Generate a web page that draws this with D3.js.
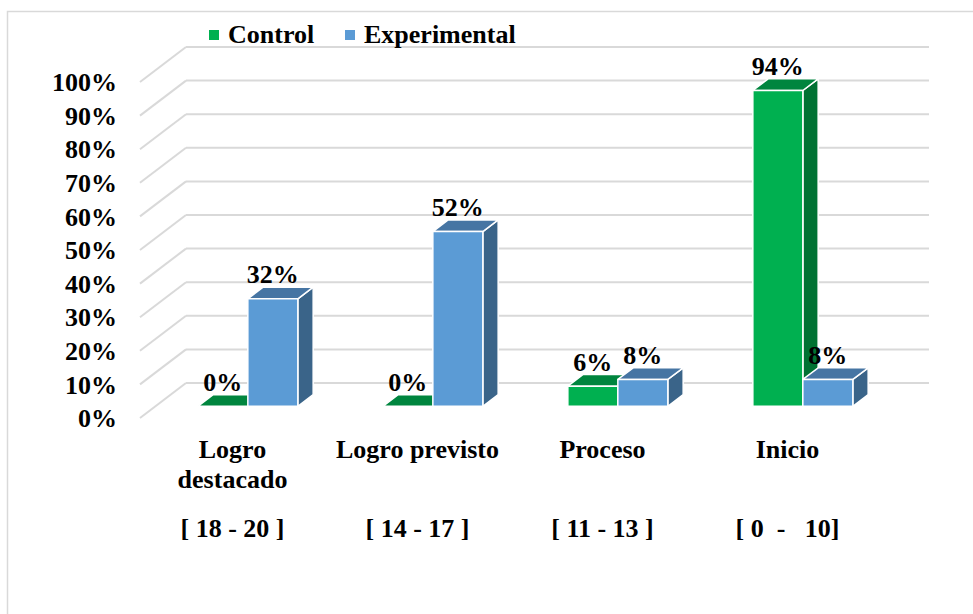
<!DOCTYPE html>
<html>
<head>
<meta charset="utf-8">
<script src="https://cdn.jsdelivr.net/npm/d3@7"></script>
<style>
    body { margin: 0; background: #fff; }
    svg text { font-family: "Liberation Serif", "Times New Roman", serif; font-weight: bold; fill: #000; }
</style>
</head>
<body>
<svg id="chart" width="973" height="614"></svg>
<script>
(function () {
    "use strict";

    var categories = ["Logro destacado", "Logro previsto", "Proceso", "Inicio"];
    var ranges = ["[ 18 - 20 ]", "[ 14 - 17 ]", "[ 11 - 13 ]", "[ 0  -   10]"];
    var series = ["Control", "Experimental"];
    var control = [0, 0, 6, 94];
    var experimental = [32, 52, 8, 8];
    var yTicks = [0, 10, 20, 30, 40, 50, 60, 70, 80, 90, 100];

    var colors = {
        Control: { front: "#00b050", top: "#00853e", side: "#007233" },
        Experimental: { front: "#5b9bd5", top: "#4675a3", side: "#3a6489" }
    };

    // Floor depth vector, from the front edge to the back wall.
    var depth = { x: 46, y: -35 };
    var floorLeft = 140, floorRight = 880, wallRight = 929;
    var fontSize = 26;

    var svg = d3.select("#chart");

    svg.append("rect")
        .attr("x", 7.5).attr("y", 11.5)
        .attr("width", 1000).attr("height", 700)
        .attr("fill", "#fff")
        .attr("stroke", "#d9d9d9")
        .attr("stroke-width", 1.5);

    // y is measured on the back wall.
    var y = d3.scaleLinear().domain([0, 100]).range([383, 47]);

    var x = d3.scaleBand().domain(categories).range([floorLeft, floorRight]);
    var bw = x.bandwidth();
    var barW = 50;
    var xInner = d3.scaleBand().domain(series)
        .range([(bw - 2 * barW) / 2, (bw + 2 * barW) / 2]);

    /***************************************
     * Walls: gridlines on back wall plus the left wall diagonals
     */
    var grid = svg.append("g").attr("class", "grid");

    grid.selectAll("line.back")
        .data(yTicks)
      .enter()
        .append("line")
        .attr("class", "back")
        .attr("x1", floorLeft + depth.x).attr("x2", wallRight)
        .attr("y1", function (d) { return y(d); })
        .attr("y2", function (d) { return y(d); })
        .attr("stroke", "#d9d9d9")
        .attr("stroke-width", 2);

    grid.selectAll("line.side")
        .data(yTicks)
      .enter()
        .append("line")
        .attr("class", "side")
        .attr("x1", floorLeft).attr("x2", floorLeft + depth.x)
        .attr("y1", function (d) { return y(d) - depth.y; })
        .attr("y2", function (d) { return y(d); })
        .attr("stroke", "#d9d9d9")
        .attr("stroke-width", 2);

    // Axis labels sit at the front end of each wall line.
    svg.append("g").selectAll("text")
        .data(yTicks)
      .enter()
        .append("text")
        .attr("x", 117)
        .attr("y", function (d) { return y(d) - depth.y; })
        .attr("dy", "0.35em")
        .attr("text-anchor", "end")
        .style("font-size", fontSize + "px")
        .text(function (d) { return d + "%"; });

    /***************************************
     * Bars, left to right so the next bar hides the side face
     */
    var bars = [];
    categories.forEach(function (c, i) {
        bars.push({ cat: c, s: "Control", v: control[i] });
        bars.push({ cat: c, s: "Experimental", v: experimental[i] });
    });

    // Bars stand in the middle third of the floor depth.
    var fx = depth.x / 3, fy = depth.y / 3;

    function pts(a) {
        return a.map(function (p) { return p.join(","); }).join(" ");
    }

    var g = svg.append("g").attr("class", "bars");

    bars.forEach(function (d) {
        var x0 = x(d.cat) + xInner(d.s) + fx,
            x1 = x0 + xInner.bandwidth(),
            yb = y(0) - depth.y + fy,
            yt = y(d.v) - depth.y + fy,
            col = colors[d.s];

        var bar = g.append("g");

        if (d.v > 0) {
            bar.append("polygon")
                .attr("points", pts([[x1, yb], [x1 + fx, yb + fy], [x1 + fx, yt + fy], [x1, yt]]))
                .attr("fill", col.side);
        }
        bar.append("polygon")
            .attr("points", pts([[x0, yt], [x1, yt], [x1 + fx, yt + fy], [x0 + fx, yt + fy]]))
            .attr("fill", col.top);
        if (d.v > 0) {
            bar.append("rect")
                .attr("x", x0).attr("y", yt)
                .attr("width", x1 - x0).attr("height", yb - yt)
                .attr("fill", col.front);
        }
        bar.selectAll("*")
            .attr("stroke", "#fff")
            .attr("stroke-width", 1.5)
            .attr("stroke-linejoin", "round");

        d.lx = (x0 + x1) / 2;
        d.ly = yt + fy - 4;
    });

    svg.append("g").selectAll("text")
        .data(bars)
      .enter()
        .append("text")
        .attr("x", function (d) { return d.lx; })
        .attr("y", function (d) { return d.ly; })
        .attr("text-anchor", "middle")
        .style("font-size", fontSize + "px")
        .text(function (d) { return d.v + "%"; });

    /***************************************
     * Category labels under the front edge of the floor
     */
    var catG = svg.append("g");
    categories.forEach(function (c, i) {
        var cx = x(c) + bw / 2;
        var t = catG.append("text")
            .attr("text-anchor", "middle")
            .style("font-size", fontSize + "px");
        wrap(t, c, cx, 457.5, 30, 178);

        catG.append("text")
            .attr("x", cx).attr("y", 537)
            .attr("text-anchor", "middle")
            .style("font-size", fontSize + "px")
            .style("white-space", "pre")
            .attr("xml:space", "preserve")
            .text(ranges[i]);
    });

    function wrap(text, str, cx, y0, lh, maxW) {
        var words = str.split(" "), line = [], n = 0;
        var tspan = text.append("tspan").attr("x", cx).attr("y", y0);
        words.forEach(function (w) {
            line.push(w);
            tspan.text(line.join(" "));
            if (tspan.node().getComputedTextLength() > maxW && line.length > 1) {
                line.pop();
                tspan.text(line.join(" "));
                line = [w];
                n += 1;
                tspan = text.append("tspan").attr("x", cx)
                    .attr("y", y0 + n * lh).text(w);
            }
        });
    }

    /***************************************
     * Legend
     */
    var legendX = [209, 345];
    var legend = svg.append("g").selectAll("g")
        .data(series)
      .enter()
        .append("g")
        .attr("transform", function (d, i) { return "translate(" + legendX[i] + ",30)"; });

    legend.append("rect")
        .attr("width", 10).attr("height", 10)
        .attr("fill", function (d) { return colors[d].front; });

    legend.append("text")
        .attr("x", 19).attr("y", 13)
        .style("font-size", fontSize + "px")
        .text(function (d) { return d; });
})();
</script>
</body>
</html>
